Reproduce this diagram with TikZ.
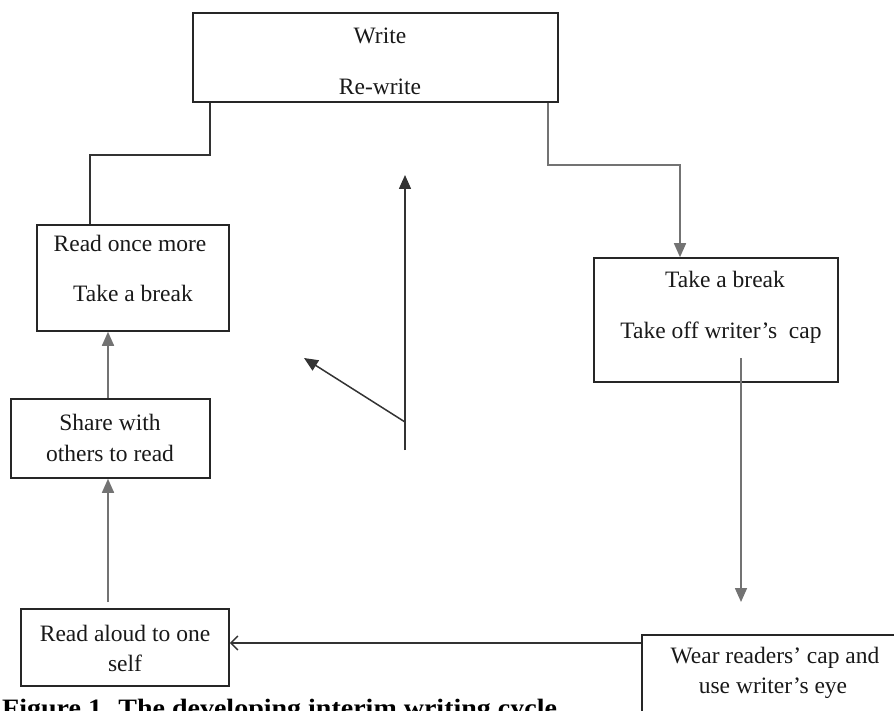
\documentclass[tikz,border=0pt]{standalone}
\usepackage{fontspec}
\setmainfont{Liberation Serif}
\usetikzlibrary{arrows.meta}
\begin{document}
\begin{tikzpicture}[x=1pt,y=-1pt,
  box/.style={draw=black!85,line width=1.6pt,rectangle,inner sep=0pt},
  lbl/.style={font=\fontsize{23.5}{28}\selectfont,inner sep=0pt,text=black!90},
  conn/.style={draw=black!80,line width=1.5pt},
  gconn/.style={draw=black!55,line width=1.6pt},
  arr/.style={-{Triangle[length=14pt,width=12pt]}},
  oarr/.style={-{Straight Barb[length=7pt,width=14pt,line width=1.5pt]}}
]
\clip (0,0) rectangle (894,711);
\fill[white] (0,0) rectangle (894,711);

% boxes
\node[box,minimum width=365pt,minimum height=89pt] (W) at (375.5,57.5) {};
\node[box,minimum width=192pt,minimum height=106pt] (RO) at (133,278) {};
\node[box,minimum width=199pt,minimum height=79pt] (SH) at (110.5,438.5) {};
\node[box,minimum width=208pt,minimum height=77pt] (RA) at (125,647.5) {};
\node[box,minimum width=244pt,minimum height=124pt] (TB) at (716,320) {};
\node[box,minimum width=276pt,minimum height=92pt] (WR) at (780,681) {};

% texts
\node[lbl] (t1) at (380,36) {Write};
\node[lbl] (t2) at (380,87) {Re-write};
\node[lbl] (t3) at (130,243) {Read once more};
\node[lbl] (t4) at (133,293) {Take a break};
\node[lbl] (t5) at (110,422) {Share with};
\node[lbl] (t6) at (110,453) {others to read};
\node[lbl] (t7) at (125,633) {Read aloud to one};
\node[lbl] (t8) at (125,663) {self};
\node[lbl] (t9) at (725,279) {Take a break};
\node[lbl] (t10) at (721,333) {Take off writer’s\ \ cap};
\node[lbl] (t11) at (775,658) {Wear readers’ cap and};
\node[lbl] (t12) at (773,688) {use writer’s eye};

% caption (cut at the bottom edge, as in the reference)
\node[anchor=base west,inner sep=0pt,xscale=1.12,font=\fontsize{25}{30}\selectfont\bfseries] (cap) at (2,716) {Figure 1. The developing interim writing cycle};

% connectors
\draw[conn] (W.south -| 210,0) -- (210,155) -- (90,155) -- (RO.north -| 90,0);
\draw[gconn,arr] (W.south -| 548,0) -- (548,165) -- (680,165) -- (TB.north -| 680,0);
\coordinate (tbs) at (741,358);
\coordinate (tbe) at (741,602);
\draw[gconn,arr] (tbs) -- (tbe);
\draw[conn,oarr] (WR.west |- 0,643) -- (RA.east |- 0,643);
\coordinate (ras) at (108,602);
\draw[gconn,arr] (ras) -- (SH.south -| 108,0);
\draw[gconn,arr] (SH.north -| 108,0) -- (RO.south -| 108,0);

% central arrows
\coordinate (cb) at (405,450);
\coordinate (ct) at (405,175);
\coordinate (cm) at (405,422);
\coordinate (cd) at (304,358);
\draw[conn,arr] (cb) -- (ct);
\draw[conn,arr] (cm) -- (cd);
\end{tikzpicture}
\end{document}
